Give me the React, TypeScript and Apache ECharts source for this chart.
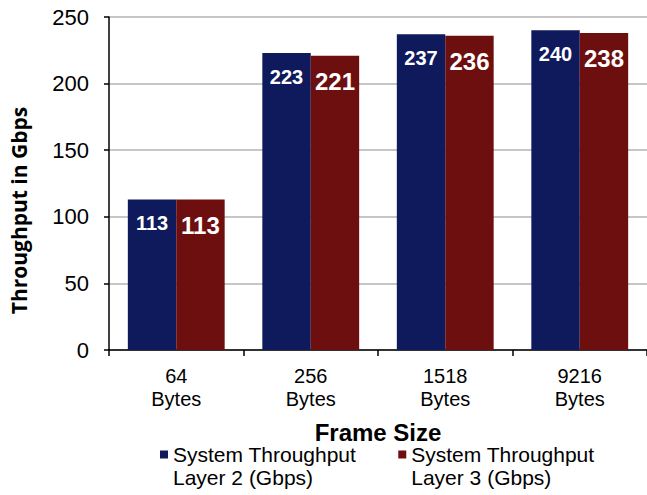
import React, { useEffect, useRef } from "react";
import * as echarts from "echarts";

const categories = ["64\nBytes", "256\nBytes", "1518\nBytes", "9216\nBytes"];
const layer2 = [113, 223, 237, 240];
const layer3 = [113, 221, 236, 238];
const seriesNames = ["System Throughput\nLayer 2 (Gbps)", "System Throughput\nLayer 3 (Gbps)"];
const yTicks = { min: 0, max: 250, interval: 50 };

const FONT = "Liberation Sans, Arial, sans-serif";

export default function App() {
  const ref = useRef<HTMLDivElement>(null);
  useEffect(() => {
    if (!ref.current) return;
    const chart = echarts.init(ref.current, undefined, { renderer: "svg" });
    chart.setOption({
      animation: false,
      backgroundColor: "#ffffff",
      textStyle: { fontFamily: FONT },
      grid: { left: 102, right: 0, top: 17, bottom: 145, containLabel: false },
      legend: {
        left: 160,
        top: 420,
        padding: 0,
        itemWidth: 8,
        itemHeight: 8,
        itemGap: 42,
        textGap: 9,
        icon: "rect",
        selectedMode: false,
        formatter: (name: string) => "\n" + name,
        textStyle: { fontFamily: FONT, fontSize: 21, color: "#000", lineHeight: 23 },
        data: seriesNames,
      },
      xAxis: {
        type: "category",
        data: categories,
        name: "Frame Size",
        nameLocation: "middle",
        nameGap: 70,
        nameTextStyle: { fontFamily: FONT, fontSize: 24, fontWeight: "bold", color: "#000" },
        axisLine: { lineStyle: { color: "#000", width: 1.5 } },
        axisTick: { show: true, length: 6, lineStyle: { color: "#000", width: 1.5 } },
        axisLabel: { fontFamily: FONT, fontSize: 20, color: "#000", lineHeight: 23, margin: 14 },
      },
      yAxis: {
        type: "value",
        min: yTicks.min,
        max: yTicks.max,
        interval: yTicks.interval,
        name: "Throughput in Gbps",
        nameLocation: "middle",
        nameGap: 80,
        nameTextStyle: {
          fontFamily: "Open Sans",
          fontSize: 21,
          fontWeight: "bold",
          color: "#000",
          padding: [0, 54, 0, 0],
        },
        axisLine: { show: true, lineStyle: { color: "#000", width: 1.5 } },
        axisTick: { show: true, length: 5, lineStyle: { color: "#000", width: 1.5 } },
        axisLabel: { fontFamily: FONT, fontSize: 22, color: "#000", margin: 20 },
        splitLine: { show: true, lineStyle: { color: "#b3b3b3", width: 1.5 } },
      },
      series: [
        {
          name: seriesNames[0],
          type: "bar",
          data: layer2,
          barGap: "0%",
          barCategoryGap: "28%",
          itemStyle: { color: "#0f1a5c" },
          label: {
            show: true,
            position: "insideTop",
            distance: 14,
            color: "#fff",
            fontFamily: FONT,
            fontWeight: "bold",
            fontSize: 20,
          },
        },
        {
          name: seriesNames[1],
          type: "bar",
          data: layer3,
          barGap: "0%",
          barCategoryGap: "28%",
          itemStyle: { color: "#6d0e0f" },
          label: {
            show: true,
            position: "insideTop",
            distance: 14,
            color: "#fff",
            fontFamily: FONT,
            fontWeight: "bold",
            fontSize: 24,
          },
        },
      ],
    });
    return () => chart.dispose();
  }, []);
  return <div ref={ref} style={{ width: 647, height: 495, position: "absolute", left: 0, top: 0 }} />;
}
